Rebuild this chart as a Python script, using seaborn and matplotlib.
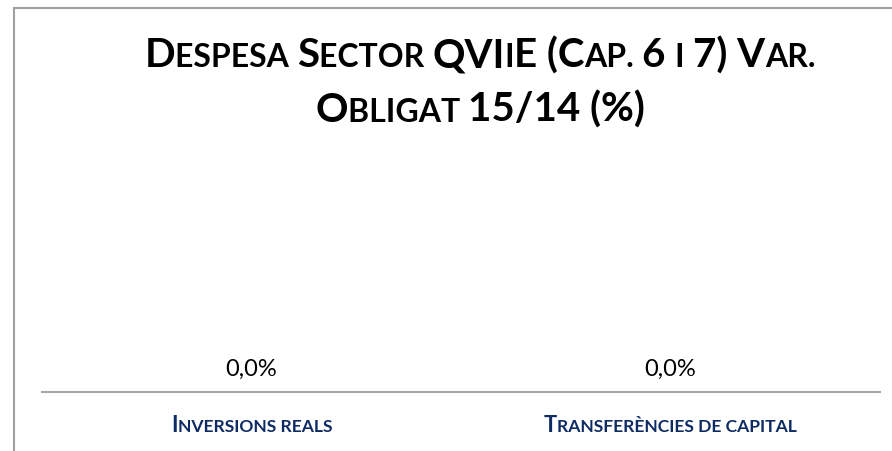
import matplotlib
matplotlib.use("Agg")
import matplotlib.pyplot as plt
import seaborn as sns
import pandas as pd
from matplotlib.offsetbox import TextArea, HPacker, VPacker, AnnotationBbox
from matplotlib.patches import Rectangle

# Data
categories = ["Inversions reals", "Transferències de capital"]
values = [0.0, 0.0]
value_labels = ["0,0%", "0,0%"]

# small-caps pieces: (text, is_big)
cat_pieces = [
    [("I", True), ("NVERSIONS REALS", False)],
    [("T", True), ("RANSFERÈNCIES DE CAPITAL", False)],
]
title_pieces = [
    [("D", True), ("ESPESA ", False), ("S", True), ("ECTOR ", False),
     ("QVI", True), ("I", False), ("E (C", True), ("AP. ", False),
     ("6 ", True), ("I ", False), ("7) V", True), ("AR.", False)],
    [("O", True), ("BLIGAT ", False), ("15/14 (%)", True)],
]

FONT = "Lato"
NAVY = "#0E2B63"

sns.set_theme(style="white")
plt.rcParams["font.family"] = [FONT, "DejaVu Sans"]

df = pd.DataFrame({"cat": categories, "val": values})

fig = plt.figure(figsize=(8.92, 4.51), dpi=100)
ax = fig.add_axes([42 / 892, 59 / 451, 838 / 892, 200 / 451])
sns.barplot(data=df, x="cat", y="val", color="#4472C4", ax=ax)
ax.set_ylim(0, 1)
ax.set_xlim(-0.5, 1.5)
ax.set_xlabel("")
ax.set_ylabel("")
ax.set_yticks([])
ax.set_xticks([])
for s in ["top", "right", "left"]:
    ax.spines[s].set_visible(False)
ax.spines["bottom"].set_color("#A6A6A6")
ax.spines["bottom"].set_linewidth(1.5)
ax.set_facecolor("none")

ax.bar_label(ax.containers[0], labels=value_labels, padding=9,
             fontsize=17, color="#000000", family=FONT)


def smallcaps(pieces, big, small, color, weight="bold"):
    boxes = []
    for txt, is_big in pieces:
        boxes.append(TextArea(txt, textprops=dict(
            fontsize=big if is_big else small, color=color,
            fontweight=weight, family=FONT)))
    return HPacker(children=boxes, align="baseline", pad=0, sep=0)


for i, pieces in enumerate(cat_pieces):
    box = smallcaps(pieces, 15.8, 12.6, NAVY)
    ab = AnnotationBbox(box, (i, 0), xycoords=("data", "axes fraction"),
                        xybox=(0, -24), boxcoords="offset points",
                        box_alignment=(0.5, 0.5), frameon=False)
    ax.add_artist(ab)

rows = [smallcaps(p, 29, 23, "#000000") for p in title_pieces]
title_box = VPacker(children=rows, align="center", pad=0, sep=12)
ab = AnnotationBbox(title_box, (480 / 892, 1 - 82.5 / 451),
                    xycoords="figure fraction", box_alignment=(0.5, 0.5),
                    frameon=False)
fig.add_artist(ab)

frame = Rectangle((14 / 892, -0.1), 1.2, 1 - 8 / 451 + 0.1,
                  transform=fig.transFigure, fill=False,
                  edgecolor="#A0A0A0", linewidth=1.5)
fig.add_artist(frame)

fig.savefig("out.png", dpi=100, facecolor="white")
